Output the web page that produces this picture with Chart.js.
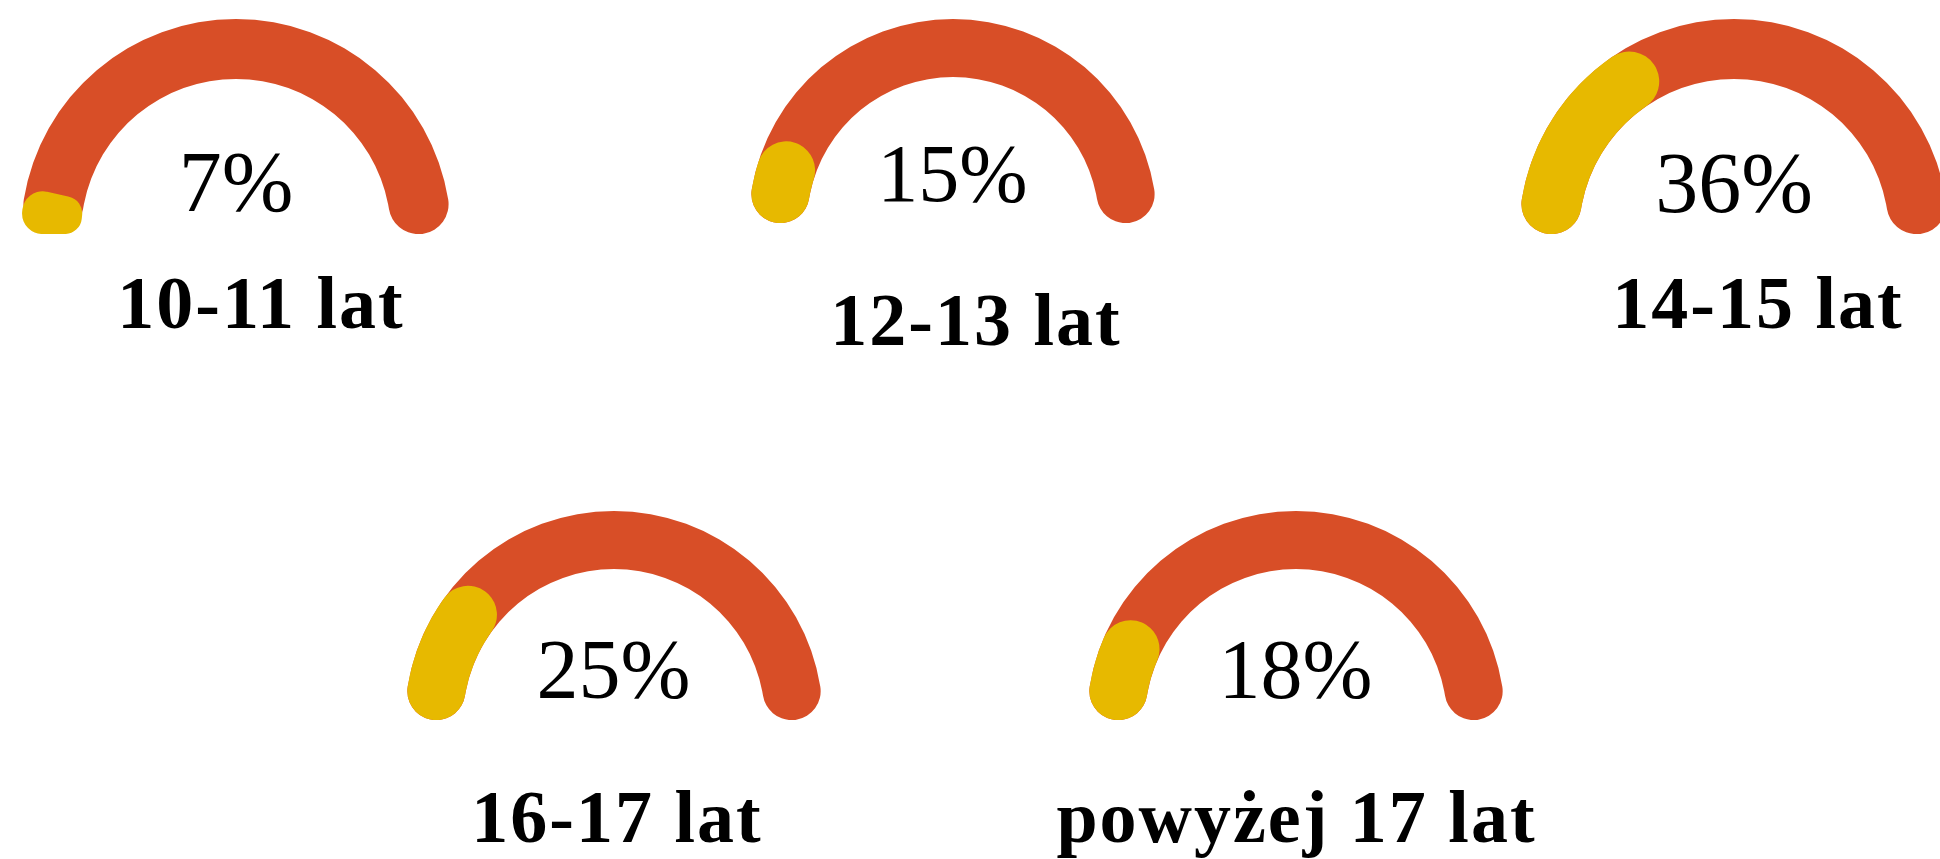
<!DOCTYPE html>
<html>
<head>
<meta charset="utf-8">
<script src="https://cdn.jsdelivr.net/npm/chart.js@4.4.1/dist/chart.umd.min.js"></script>
<style>
  html, body { margin:0; padding:0; background:#ffffff; width:1940px; height:859px; overflow:hidden; }
  canvas.g { position:absolute; display:block; }
  .pct { position:absolute; font-family:"Liberation Serif","Times New Roman",serif; font-weight:normal; color:#000; white-space:nowrap; line-height:1; transform:translateX(-50%); }
  .lbl { position:absolute; font-family:"Liberation Serif","Times New Roman",serif; font-weight:bold; color:#000; white-space:nowrap; line-height:1; letter-spacing:2px; padding-left:2px; transform:translateX(-50%); }
</style>
</head>
<body>
<script>
// ---- data ----
const categories = ['10-11 lat', '12-13 lat', '14-15 lat', '16-17 lat', 'powyżej 17 lat'];
const values = [7, 15, 36, 25, 18];
const scaleMax = 100;

// ---- styles / layout (not data) ----
const COLORS = { track: '#D84E27', value: '#E7B900' };
const FONT_ASCENT = 0.8375; // baseline offset for line-height:1 (Liberation Serif)
const layout = [
  { cx: 236,    cy: 234, r: 215, t: 60, pctSize: 86, pctBase: 211, lblX: 260,    lblBase: 328, lblSize: 74 },
  { cx: 952.5,  cy: 223, r: 204, t: 58, pctSize: 82, pctBase: 202, lblX: 975,    lblBase: 345, lblSize: 74 },
  { cx: 1734,   cy: 234, r: 215, t: 60, pctSize: 86, pctBase: 212, lblX: 1757,   lblBase: 328, lblSize: 74 },
  { cx: 613.5,  cy: 720, r: 209, t: 58, pctSize: 84, pctBase: 698, lblX: 616,    lblBase: 842, lblSize: 74 },
  { cx: 1295.5, cy: 720, r: 209, t: 58, pctSize: 84, pctBase: 698, lblX: 1295.5, lblBase: 842, lblSize: 74 }
];

function makeCanvas(L) {
  const c = document.createElement('canvas');
  c.className = 'g';
  c.width = Math.round(2 * L.r);
  c.height = Math.round(L.r);
  c.style.left = (L.cx - L.r) + 'px';
  c.style.top = (L.cy - L.r) + 'px';
  c.style.width = (2 * L.r) + 'px';
  c.style.height = L.r + 'px';
  document.body.appendChild(c);
  return c;
}

function gauge(canvas, data, colors, L, label) {
  return new Chart(canvas, {
    type: 'doughnut',
    data: {
      labels: data.map((_, i) => label + ' ' + i),
      datasets: [{
        data: data,
        backgroundColor: colors,
        borderWidth: 0,
        borderRadius: L.t / 2
      }]
    },
    options: {
      responsive: false,
      maintainAspectRatio: false,
      animation: false,
      events: [],
      rotation: -90,
      circumference: 180,
      cutout: ((L.r - L.t) / L.r * 100) + '%',
      layout: { padding: 0 },
      plugins: { legend: { display: false }, tooltip: { enabled: false } }
    }
  });
}

categories.forEach((cat, i) => {
  const L = layout[i];
  const v = values[i];
  // background track
  gauge(makeCanvas(L), [scaleMax], [COLORS.track], L, cat);
  // value arc on top
  gauge(makeCanvas(L), [v, scaleMax - v], [COLORS.value, 'rgba(0,0,0,0)'], L, cat);

  const p = document.createElement('div');
  p.className = 'pct';
  p.textContent = v + '%';
  p.style.fontSize = L.pctSize + 'px';
  p.style.left = L.cx + 'px';
  p.style.top = (L.pctBase - FONT_ASCENT * L.pctSize) + 'px';
  document.body.appendChild(p);

  const t = document.createElement('div');
  t.className = 'lbl';
  t.textContent = cat;
  t.style.fontSize = L.lblSize + 'px';
  t.style.left = L.lblX + 'px';
  t.style.top = (L.lblBase - FONT_ASCENT * L.lblSize) + 'px';
  document.body.appendChild(t);
});
</script>
</body>
</html>
